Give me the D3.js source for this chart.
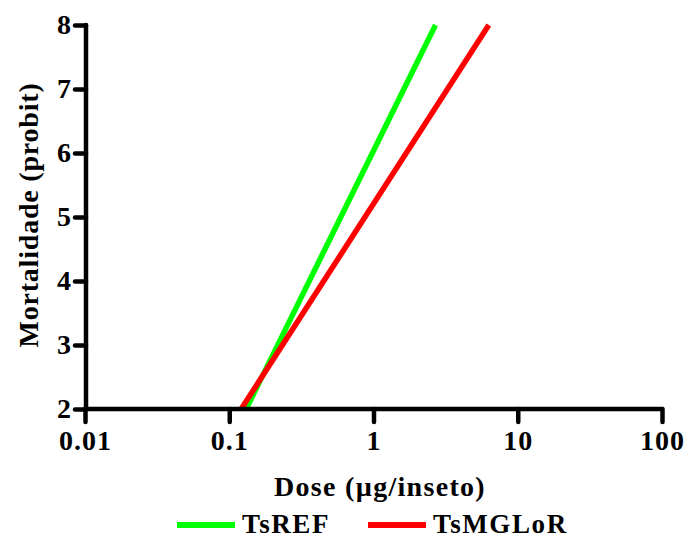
<!DOCTYPE html>
<html><head><meta charset="utf-8">
<script src="https://cdn.jsdelivr.net/npm/d3@7"></script>
<style>body{margin:0;background:#fff}</style>
</head><body>
<script>
const seriesNames = ["TsREF", "TsMGLoR"];
const seriesColors = ["#00ff00", "#ff0000"];
const tsrefDose = [0.131, 2.69];
const tsrefProbit = [2, 8];
const tsmglorDose = [0.121, 6.3];
const tsmglorProbit = [2, 8];
const xTicks = [0.01, 0.1, 1, 10, 100];
const xTickLabels = ["0.01", "0.1", "1", "10", "100"];
const yTicks = [2, 3, 4, 5, 6, 7, 8];

const W = 690, H = 540;
const svg = d3.select("body").append("svg").attr("width", W).attr("height", H);
const x = d3.scaleLog().domain([0.01, 100]).range([85, 662]);
const y = d3.scaleLinear().domain([2, 8]).range([409, 25]);
const font = "Liberation Serif, DejaVu Serif, serif";

const series = [
  {name: seriesNames[0], color: seriesColors[0], d: tsrefDose, p: tsrefProbit},
  {name: seriesNames[1], color: seriesColors[1], d: tsmglorDose, p: tsmglorProbit}
];
const line = d3.line().x(d => x(d[0])).y(d => y(d[1]));
series.forEach(s => {
  svg.append("path").attr("d", line(s.d.map((v, i) => [v, s.p[i]])))
    .attr("fill", "none").attr("stroke", s.color).attr("stroke-width", 5.5);
});

// axes
const xAxis = svg.append("g").attr("transform", "translate(0,409)")
  .call(d3.axisBottom(x).tickValues(xTicks).tickFormat((d, i) => xTickLabels[i]).tickSize(13).tickPadding(8));
const yAxis = svg.append("g").attr("transform", "translate(86,0)")
  .call(d3.axisLeft(y).tickValues(yTicks).tickFormat(d3.format("d")).tickSize(11).tickPadding(4));
[xAxis, yAxis].forEach(g => {
  g.attr("font-family", null).attr("font-size", null);
  g.select(".domain").attr("stroke", "#000").attr("stroke-width", 4.5).attr("stroke-linecap", "round");
  g.selectAll(".tick line").attr("stroke", "#000").attr("stroke-width", 4.5).attr("stroke-linecap", "round");
  g.selectAll(".tick text").attr("fill", "#000").attr("font-family", font).attr("font-weight", "bold").attr("font-size", 28);
});
xAxis.selectAll(".tick text").attr("letter-spacing", 1);
xAxis.select(".domain").attr("d", `M${x(0.01)},0H${x(100)}`);
yAxis.select(".domain").attr("d", `M0,${y(2)}V${y(8)}`);

svg.append("text").attr("x", 380).attr("y", 496).attr("text-anchor", "middle")
  .attr("font-family", font).attr("font-weight", "bold").attr("font-size", 28).attr("letter-spacing", 1.3)
  .text("Dose (µg/inseto)");
svg.append("text").attr("transform", "translate(38,215) rotate(-90)").attr("text-anchor", "middle")
  .attr("font-family", font).attr("font-weight", "bold").attr("font-size", 28).attr("letter-spacing", 0.8)
  .text("Mortalidade (probit)");

// legend
const legX = [177, 368];
series.forEach((s, i) => {
  svg.append("line").attr("x1", legX[i]).attr("x2", legX[i] + 58).attr("y1", 525).attr("y2", 525)
    .attr("stroke", s.color).attr("stroke-width", 6);
  svg.append("text").attr("x", legX[i] + 65).attr("y", 533)
    .attr("font-family", font).attr("font-weight", "bold").attr("font-size", 27).attr("letter-spacing", 1.6)
    .text(s.name);
});
</script>
</body></html>
